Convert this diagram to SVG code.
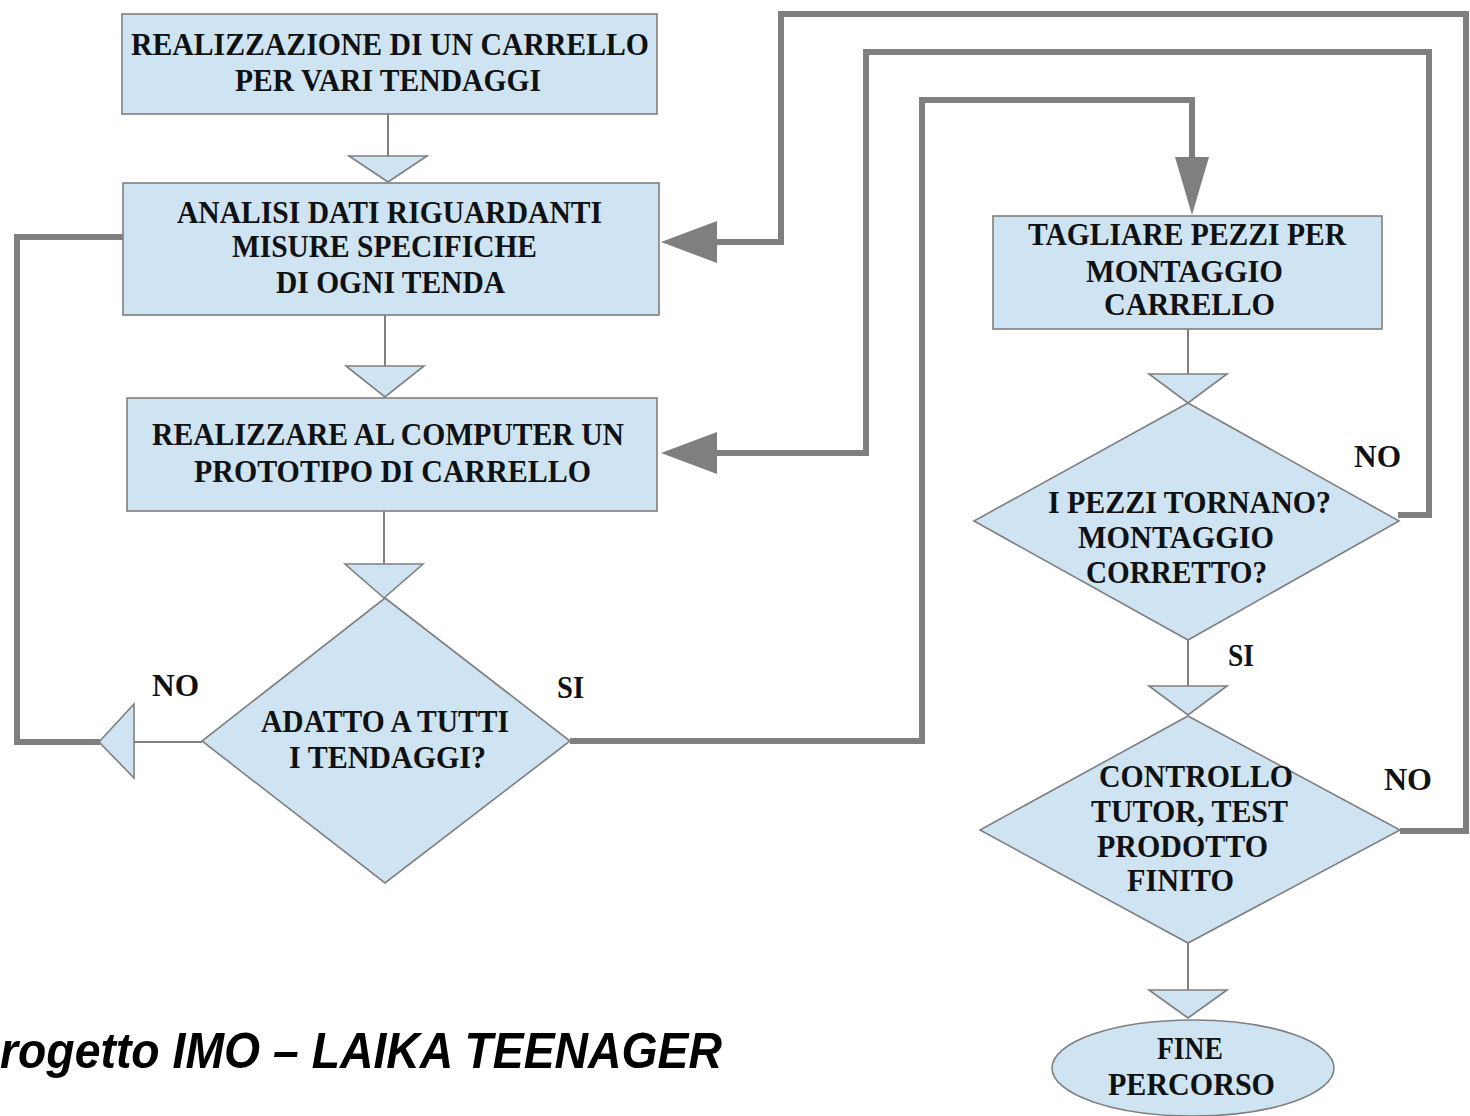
<svg xmlns="http://www.w3.org/2000/svg" width="1470" height="1116" viewBox="0 0 1470 1116">
<style>
.shape{fill:#cfe4f3;stroke:#7f7f7f;stroke-width:1.6}
.thin{fill:none;stroke:#7f7f7f;stroke-width:2}
.thick{fill:none;stroke:#7f7f7f;stroke-width:6;stroke-linejoin:miter}
.head{fill:#7f7f7f;stroke:none}
.t{font-family:"Liberation Serif","Times New Roman",serif;font-weight:bold;font-size:32px;fill:#111}
.foot{font-family:"Liberation Sans",Arial,sans-serif;font-weight:bold;font-style:italic;font-size:50px;fill:#000}
</style>
<rect width="1470" height="1116" fill="#fff"/>

<g id="connectors">
  <line class="thin" x1="388" y1="114" x2="388" y2="156"/>
  <polygon class="shape" points="349,156 427,156 388,182"/>
  <line class="thin" x1="385" y1="315" x2="385" y2="366"/>
  <polygon class="shape" points="346,366 424,366 385,397"/>
  <line class="thin" x1="384" y1="511" x2="384" y2="564"/>
  <polygon class="shape" points="345,564 423,564 384,598"/>
  <polyline class="thick" points="100,742 17,742 17,237 123,237"/>
  <line class="thin" x1="202" y1="742" x2="134" y2="742"/>
  <polygon class="shape" points="134,704 134,778 99,742"/>
  <polyline class="thick" points="570,741 922,741 922,100 1192,100 1192,160"/>
  <polygon class="head" points="1175,157 1209,157 1192,215"/>
  <line class="thin" x1="1188" y1="329" x2="1188" y2="374"/>
  <polygon class="shape" points="1149,374 1227,374 1188,403"/>
  <line class="thin" x1="1188" y1="640" x2="1188" y2="686"/>
  <polygon class="shape" points="1149,686 1227,686 1188,715"/>
  <line class="thin" x1="1188" y1="943" x2="1188" y2="990"/>
  <polygon class="shape" points="1149,990 1227,990 1188,1018"/>
  <polyline class="thick" points="1398,515 1429,515 1429,52 866,52 866,453 712,453"/>
  <polygon class="head" points="661,453 717,432 717,474"/>
  <polyline class="thick" points="1400,831 1466,831 1466,14 781,14 781,242 712,242"/>
  <polygon class="head" points="661,242 717,221 717,263"/>
</g>

<g id="n1">
  <rect class="shape" x="122" y="14" width="535" height="100"/>
  <text class="t" x="131" y="55" textLength="518" lengthAdjust="spacingAndGlyphs">REALIZZAZIONE DI UN CARRELLO</text>
  <text class="t" x="235" y="91" textLength="306" lengthAdjust="spacingAndGlyphs">PER VARI TENDAGGI</text>
</g>
<g id="n2">
  <rect class="shape" x="123" y="183" width="536" height="132"/>
  <text class="t" x="177" y="223" textLength="425" lengthAdjust="spacingAndGlyphs">ANALISI DATI RIGUARDANTI</text>
  <text class="t" x="232" y="257" textLength="305" lengthAdjust="spacingAndGlyphs">MISURE SPECIFICHE</text>
  <text class="t" x="276" y="293" textLength="229" lengthAdjust="spacingAndGlyphs">DI OGNI TENDA</text>
</g>
<g id="n3">
  <rect class="shape" x="127" y="398" width="530" height="113"/>
  <text class="t" x="152" y="445" textLength="472" lengthAdjust="spacingAndGlyphs">REALIZZARE AL COMPUTER UN</text>
  <text class="t" x="194" y="482" textLength="397" lengthAdjust="spacingAndGlyphs">PROTOTIPO DI CARRELLO</text>
</g>
<g id="d1">
  <polygon class="shape" points="385,598 570,741 385,883 202,741"/>
  <text class="t" x="261" y="732" textLength="248" lengthAdjust="spacingAndGlyphs">ADATTO A TUTTI</text>
  <text class="t" x="289" y="768" textLength="197" lengthAdjust="spacingAndGlyphs">I TENDAGGI?</text>
</g>
<g id="lbl1">
  <text class="t" x="152" y="696" textLength="47" lengthAdjust="spacingAndGlyphs">NO</text>
  <text class="t" x="557" y="698" textLength="27" lengthAdjust="spacingAndGlyphs">SI</text>
</g>
<g id="n4">
  <rect class="shape" x="993" y="216" width="389" height="113"/>
  <text class="t" x="1028" y="245" textLength="318" lengthAdjust="spacingAndGlyphs">TAGLIARE PEZZI PER</text>
  <text class="t" x="1086" y="282" textLength="197" lengthAdjust="spacingAndGlyphs">MONTAGGIO</text>
  <text class="t" x="1104" y="315" textLength="171" lengthAdjust="spacingAndGlyphs">CARRELLO</text>
</g>
<g id="d2">
  <polygon class="shape" points="1188,403 1399,521 1188,640 974,521"/>
  <text class="t" x="1048" y="513" textLength="283" lengthAdjust="spacingAndGlyphs">I PEZZI TORNANO?</text>
  <text class="t" x="1078" y="548" textLength="196" lengthAdjust="spacingAndGlyphs">MONTAGGIO</text>
  <text class="t" x="1086" y="583" textLength="181" lengthAdjust="spacingAndGlyphs">CORRETTO?</text>
</g>
<g id="lbl2">
  <text class="t" x="1354" y="467" textLength="47" lengthAdjust="spacingAndGlyphs">NO</text>
  <text class="t" x="1228" y="666" textLength="26" lengthAdjust="spacingAndGlyphs">SI</text>
</g>
<g id="d3">
  <polygon class="shape" points="1188,716 1400,830 1188,943 980,830"/>
  <text class="t" x="1099" y="787" textLength="194" lengthAdjust="spacingAndGlyphs">CONTROLLO</text>
  <text class="t" x="1091" y="822" textLength="197" lengthAdjust="spacingAndGlyphs">TUTOR, TEST</text>
  <text class="t" x="1097" y="857" textLength="171" lengthAdjust="spacingAndGlyphs">PRODOTTO</text>
  <text class="t" x="1127" y="891" textLength="107" lengthAdjust="spacingAndGlyphs">FINITO</text>
</g>
<g id="lbl3">
  <text class="t" x="1384" y="790" textLength="48" lengthAdjust="spacingAndGlyphs">NO</text>
</g>
<g id="end">
  <ellipse class="shape" cx="1193" cy="1068" rx="141" ry="48"/>
  <text class="t" x="1157" y="1059" textLength="66" lengthAdjust="spacingAndGlyphs">FINE</text>
  <text class="t" x="1108" y="1095" textLength="167" lengthAdjust="spacingAndGlyphs">PERCORSO</text>
</g>
<g id="footer">
  <text class="foot" x="0" y="1068" textLength="722" lengthAdjust="spacingAndGlyphs">rogetto IMO – LAIKA TEENAGER</text>
</g>
</svg>
